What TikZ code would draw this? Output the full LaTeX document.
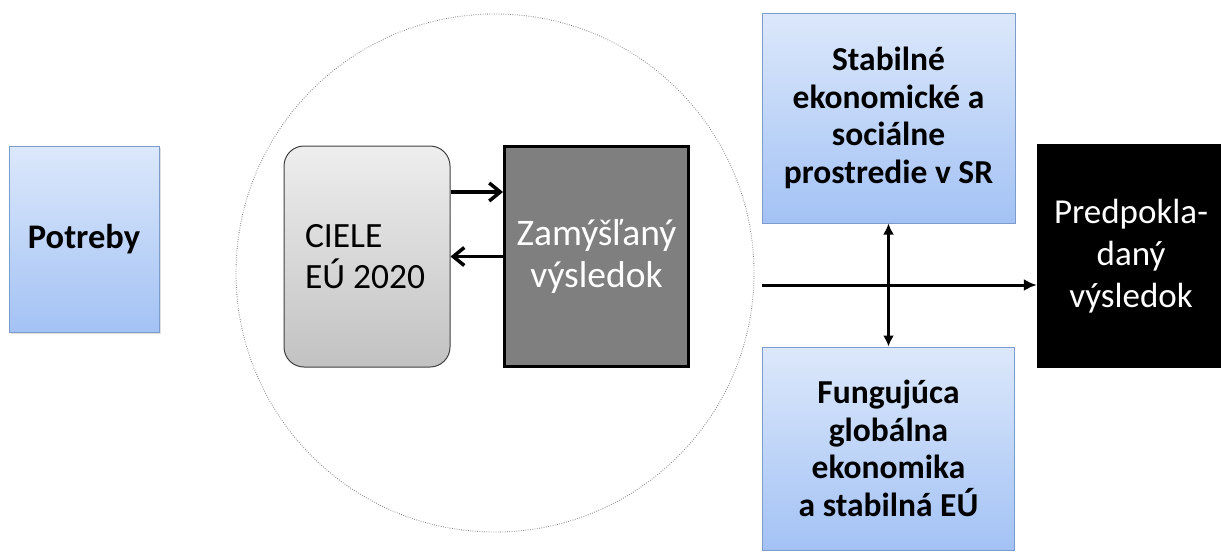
\documentclass[tikz,border=0pt]{standalone}
\usepackage{fontspec}
\setmainfont{Carlito}
\usetikzlibrary{arrows.meta,shadows}
\definecolor{bluetop}{HTML}{DCE8FB}
\definecolor{bluebot}{HTML}{A3C2F4}
\definecolor{blueedge}{HTML}{7C9CCB}
\definecolor{graytop}{HTML}{EEEEEE}
\definecolor{graybot}{HTML}{C2C2C2}
\definecolor{darkfill}{HTML}{7F7F7F}
\tikzset{
  bluebox/.style={draw=blueedge, line width=1pt, top color=bluetop, bottom color=bluebot,
    align=center, inner sep=0pt, font=\fontsize{33.5}{37.5}\selectfont\bfseries},
  goalbox/.style={draw=black!75, line width=1pt, rounded corners=20pt, top color=graytop,
    bottom color=graybot, inner sep=0pt, font=\fontsize{35.5}{41}\selectfont},
  resultbox/.style={draw=black, line width=3pt, fill=darkfill, text=white, align=center,
    inner sep=0pt, font=\fontsize{37.5}{42}\selectfont},
  blackbox/.style={fill=black, text=white, align=center, inner sep=0pt,
    font=\fontsize{35}{42}\selectfont},
  chevron/.style={line width=3.5pt, -{Straight Barb[length=11pt,width=18pt,line width=3.5pt]}},
  solidarr/.style={line width=3pt, -{Latex[length=13pt,width=12pt]}},
  dualarr/.style={line width=3pt, {Latex[length=11pt,width=11pt]}-{Latex[length=11pt,width=11pt]}},
  boundary/.style={draw=black!50, line width=0.9pt, dash pattern=on 0.7pt off 1.6pt}
}
\begin{document}
\begin{tikzpicture}[x=1pt,y=-1pt]
\useasboundingbox (0,0) rectangle (1221,552);
\fill[white] (0,0) rectangle (1221,552);
% dotted circle
\node[boundary, circle, minimum size=518pt, inner sep=0pt] (circ) at (495,273) {};
% boxes
\node[bluebox, minimum width=150pt, minimum height=186pt, font=\fontsize{34.5}{40}\selectfont\bfseries,
  drop shadow={opacity=0.25, shadow xshift=2pt, shadow yshift=-2pt}] (pot) at (84,239) {Potreby};
\node[goalbox, minimum width=166pt, minimum height=221pt, text width=124pt, align=flush left] (ciele) at (367,256.5) {CIELE\\EÚ 2020};
\node[resultbox, minimum width=184pt, minimum height=220pt] (zam) at (596.5,256.5) {Zamýšľaný\\výsledok};
\node[bluebox, minimum width=253pt, minimum height=210pt] (stab) at (888.5,118) {Stabilné\\ekonomické a\\sociálne\\prostredie v SR};
\node[bluebox, minimum width=252pt, minimum height=203pt] (fung) at (888.5,448.5) {Fungujúca\\globálna\\ekonomika\\a stabilná EÚ};
\node[blackbox, minimum width=188pt, minimum height=224pt] (pred) at (1131,256) {Predpokla-\\daný\\výsledok};
% connectors
\coordinate (up) at (0,192);
\draw[chevron] (ciele.east |- up) -- (zam.west |- up);
\draw[chevron] (zam.west) -- (ciele.east);
\coordinate (hstart) at (762,285);
\draw[solidarr] (hstart) -- (pred.west |- hstart);
\draw[dualarr] (stab.south) -- (stab.south |- fung.north);
\end{tikzpicture}
\end{document}
